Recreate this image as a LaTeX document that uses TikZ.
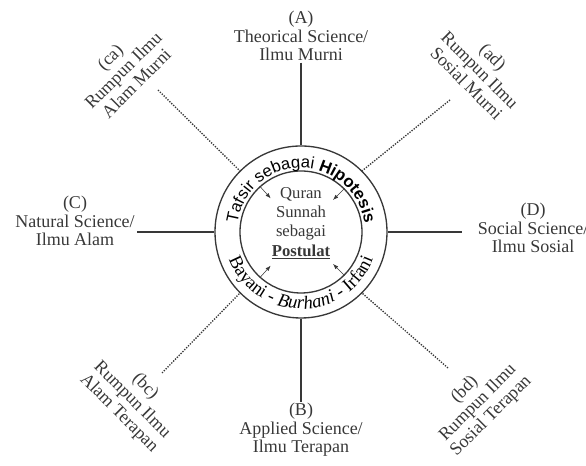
\documentclass[tikz,border=0pt]{standalone}
\usepackage{fontspec}
\setmainfont{Liberation Serif}
\setsansfont{Liberation Sans}
\usetikzlibrary{arrows.meta,positioning,decorations.text}
\definecolor{ink}{gray}{0.22}

\begin{document}
\begin{tikzpicture}[
    x=0.75pt, y=0.75pt,
    color=ink, text=ink,
    txt/.style={
        align=center,
        inner sep=1pt,
        font=\fontsize{13.5}{14}\selectfont
    },
    ring/.style={circle, draw, line width=1pt, inner sep=0pt},
    line/.style={line width=1.2pt},
    dotline/.style={densely dotted, line width=1pt},
    tip/.style={-{Latex[length=4pt,width=3pt]}, thin}
]
\useasboundingbox (0,0) rectangle (586,466);

% centre rings
\coordinate (ctr) at (301,234);
\node[ring, minimum size=129pt] (outer) at (ctr) {};
\node[ring, minimum size=91.5pt] (inner) at (ctr) {};
\node[txt, font=\fontsize{12.5}{14.5}\selectfont] (core) at (301,243)
    {Quran\\Sunnah\\sebagai\\\underline{\textbf{Postulat}}};

% text on the ring
\path[decorate, decoration={text along path, text align=center,
    text={|\sffamily\fontsize{12.5}{14}\selectfont|Tafsir sebagai |+\bfseries|Hipotesis}}]
    (ctr) ++(182:64) arc[start angle=182, end angle=-2, radius=64];
\path[decorate, decoration={text along path, text align=center,
    text={|\fontsize{14}{16}\selectfont|Bayani - |+\itshape|Burhani|\fontsize{14}{16}\selectfont| - Irfani}}]
    (ctr) ++(190:77) arc[start angle=190, end angle=350, radius=77];

% main labels
\node[txt] (A) at (301,430) {(A)\\Theorical Science/\\Ilmu Murni};
\node[txt] (B) at (301,36) {(B)\\Applied Science/\\Ilmu Terapan};
\node[txt] (C) at (75,245) {(C)\\Natural Science/\\Ilmu Alam};
\node[txt] (D) at (533,238) {(D)\\Social Science/\\Ilmu Sosial};

% diagonal labels
\node[txt, rotate=45] (ca) at (123,396) {(ca)\\Rumpun Ilmu\\Alam Murni};
\node[txt, rotate=-45] (ad) at (480,396) {(ad)\\Rumpun Ilmu\\Sosial Murni};
\node[txt, rotate=-45] (bc) at (132,66) {(bc)\\Rumpun Ilmu\\Alam Terapan};
\node[txt, rotate=45] (bd) at (478,63) {(bd)\\Rumpun Ilmu\\Sosial Terapan};

\coordinate (cEnd) at (137,234);
\coordinate (dEnd) at (462,234);
\coordinate (caEnd) at (158,376);
\coordinate (adEnd) at (450,366);
\coordinate (bcEnd) at (162,93);
\coordinate (bdEnd) at (448,98);

\draw[line] (A.south) -- (outer.north);
\draw[line] (outer.south) -- (B.north);
\draw[line] (cEnd) -- (outer.west);
\draw[line] (outer.east) -- (dEnd);

\draw[dotline] (caEnd) -- (outer.135);
\draw[dotline] (adEnd) -- (outer.45);
\draw[dotline] (bcEnd) -- (outer.225);
\draw[dotline] (bdEnd) -- (outer.315);

% small arrows toward the centre
\draw[tip, shorten >=34pt] (inner.132) -- (inner.center);
\draw[tip, shorten >=34pt] (inner.45) -- (inner.center);
\draw[tip, shorten >=34pt] (inner.228) -- (inner.center);
\draw[tip, shorten >=34pt] (inner.315) -- (inner.center);

\end{tikzpicture}
\end{document}
